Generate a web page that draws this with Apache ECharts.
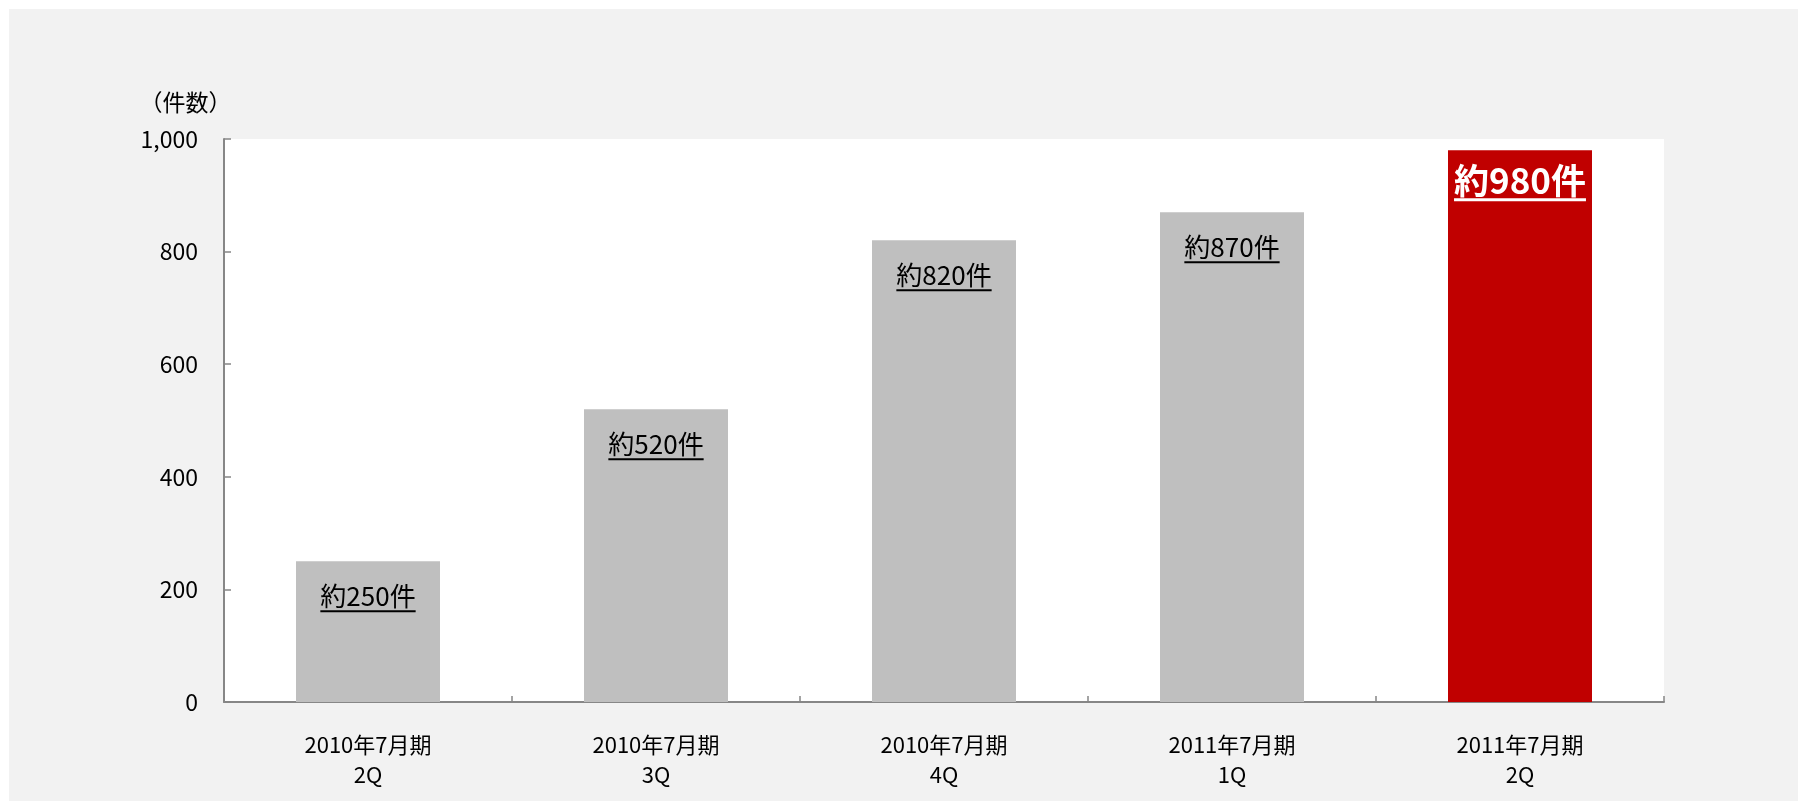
<!DOCTYPE html>
<html>
<head>
<meta charset="utf-8">
<script src="https://cdn.jsdelivr.net/npm/echarts@6/dist/echarts.min.js"></script>
<style>
  html, body { margin: 0; padding: 0; background: #ffffff; }
  #chart { position: absolute; left: 9px; top: 9px; width: 1789px; height: 792px; background: #f2f2f2; }
</style>
</head>
<body>
<div id="chart"></div>
<script>
const categories = ['2010年7月期\n2Q', '2010年7月期\n3Q', '2010年7月期\n4Q', '2011年7月期\n1Q', '2011年7月期\n2Q'];
const values = [250, 520, 820, 870, 980];
const valueLabels = ['約250件', '約520件', '約820件', '約870件', '約980件'];
const barColors = ['#bfbfbf', '#bfbfbf', '#bfbfbf', '#bfbfbf', '#c00000'];
const highlightIndex = 4;
const yMin = 0, yMax = 1000, yStep = 200;
const yAxisTitle = '（件数）';

const FONT = '"Noto Sans CJK JP", "Noto Sans", sans-serif';
const AXIS_GRAY = '#878787';

function labelFor(i) {
  const hi = i === highlightIndex;
  return {
    show: true,
    position: 'insideTop',
    distance: hi ? 12 : 21,
    formatter: '{t|' + valueLabels[i] + '}\n{u|}',
    rich: {
      t: {
        fontFamily: FONT,
        fontSize: hi ? 35 : 26,
        fontWeight: hi ? 'bold' : 'normal',
        color: hi ? '#ffffff' : '#000000',
        lineHeight: hi ? 36 : 28
      },
      u: {
        width: '100%',
        align: 'left',
        height: hi ? 3 : 2,
        lineHeight: hi ? 3 : 2,
        backgroundColor: hi ? '#ffffff' : '#000000'
      }
    }
  };
}

const chart = echarts.init(document.getElementById('chart'), null, { renderer: 'canvas' });
chart.setOption({
  animation: false,
  backgroundColor: '#f2f2f2',
  textStyle: { fontFamily: FONT },
  grid: {
    left: 215, top: 130, right: 134, bottom: 99,
    show: true, backgroundColor: '#ffffff', borderWidth: 0
  },
  xAxis: {
    type: 'category',
    data: categories,
    boundaryGap: true,
    axisLine: { show: true, lineStyle: { color: AXIS_GRAY, width: 2 } },
    axisTick: { show: true, inside: true, length: 6, lineStyle: { color: AXIS_GRAY, width: 1.5 } },
    axisLabel: { color: '#000', fontSize: 22, lineHeight: 30, margin: 28, fontFamily: FONT, interval: 0 },
    splitLine: { show: false }
  },
  yAxis: {
    type: 'value',
    min: yMin, max: yMax, interval: yStep,
    name: yAxisTitle,
    nameLocation: 'end',
    nameGap: 37,
    nameTextStyle: { color: '#000', fontSize: 23, fontFamily: FONT, align: 'center', verticalAlign: 'middle', padding: [0, 77, 0, 0] },
    axisLine: { show: true, lineStyle: { color: AXIS_GRAY, width: 2 } },
    axisTick: { show: true, inside: true, length: 7, lineStyle: { color: AXIS_GRAY, width: 1.5 } },
    axisLabel: {
      color: '#000', fontSize: 23, margin: 26, fontFamily: FONT,
      formatter: v => v.toLocaleString('en-US')
    },
    splitLine: { show: false }
  },
  series: [{
    type: 'bar',
    barCategoryGap: '50%',
    data: values.map((v, i) => ({
      value: v,
      itemStyle: { color: barColors[i] },
      label: labelFor(i)
    }))
  }]
});
</script>
</body>
</html>
